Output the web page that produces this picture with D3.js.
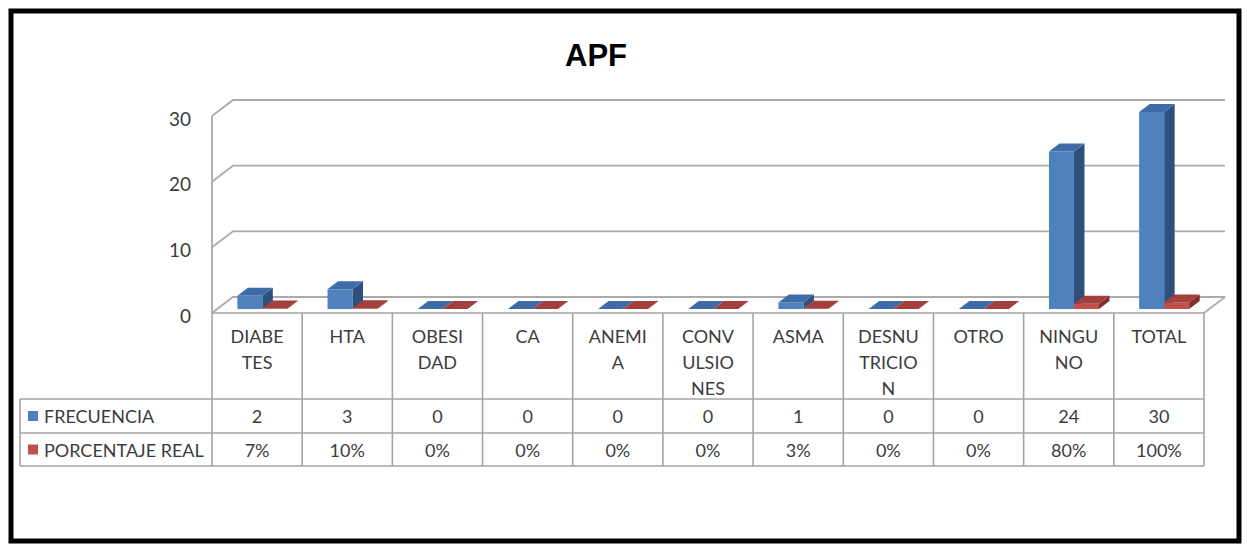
<!DOCTYPE html>
<html>
<head>
<meta charset="utf-8">
<script src="https://cdn.jsdelivr.net/npm/d3@7/dist/d3.min.js"></script>
<style>
  html, body { margin: 0; padding: 0; background: #ffffff; }
  svg { display: block; }
  text { font-family: "Lato", "Open Sans", "Liberation Sans", sans-serif; fill: #3c3c3c; }
</style>
</head>
<body>
<svg id="chart" width="1247" height="545"></svg>
<script>
// APF: frequency and real percentage per antecedent
const categories = ["DIABETES", "HTA", "OBESIDAD", "CA", "ANEMIA", "CONVULSIONES", "ASMA", "DESNUTRICION", "OTRO", "NINGUNO", "TOTAL"];
const categoryLines = [["DIABE", "TES"], ["HTA"], ["OBESI", "DAD"], ["CA"], ["ANEMI", "A"], ["CONV", "ULSIO", "NES"], ["ASMA"], ["DESNU", "TRICIO", "N"], ["OTRO"], ["NINGU", "NO"], ["TOTAL"]];
const frecuencia = [2, 3, 0, 0, 0, 0, 1, 0, 0, 24, 30];
const porcentajeReal = [0.07, 0.10, 0, 0, 0, 0, 0.03, 0, 0, 0.80, 1.00];
const seriesNames = ["FRECUENCIA", "PORCENTAJE REAL"];
const yTicks = [0, 10, 20, 30];

const series = [
  { name: seriesNames[0], values: frecuencia, fmt: d3.format("d"),
    front: "#4f81bd", top: "#3f6ca8", side: "#2f4f7c" },
  { name: seriesNames[1], values: porcentajeReal, fmt: d3.format(".0%"),
    front: "#c0504d", top: "#a33f3c", side: "#7c2f2d" }
];

const svg = d3.select("#chart");

// Frame
svg.append("rect")
  .attr("x", 11).attr("y", 11).attr("width", 1228).attr("height", 530)
  .attr("fill", "#ffffff").attr("stroke", "#000000").attr("stroke-width", 5);

// Title
svg.append("text")
  .attr("x", 596).attr("y", 55)
  .attr("text-anchor", "middle").attr("dominant-baseline", "central")
  .style("font-family", "'Liberation Sans', Arial, sans-serif")
  .style("font-weight", "bold").style("font-size", "31px").style("fill", "#000000")
  .text("APF");

// 3D projection: depth z in [0,1] shifts right and up
const DX = 21, DY = -16;
const proj = (x, y, z) => [x + DX * z, y + DY * z];

const x = d3.scaleBand().domain(categories).range([212, 1204]).paddingInner(0).paddingOuter(0);
const y = d3.scaleLinear().domain([0, 30]).range([313, 116]);

const gridColor = "#ababab";
const grid = svg.append("g");

// Back wall gridlines + left wall diagonals
yTicks.forEach(t => {
  const yy = y(t);
  const a = proj(x.range()[0], yy, 0), b = proj(x.range()[0], yy, 1), c = proj(x.range()[1], yy, 1);
  grid.append("path")
    .attr("d", `M${a}L${b}L${c}`)
    .attr("fill", "none").attr("stroke", gridColor).attr("stroke-width", 1.8);
});
// Floor right edge
{
  const a = proj(x.range()[1], y(0), 0), b = proj(x.range()[1], y(0), 1);
  grid.append("path").attr("d", `M${a}L${b}`).attr("fill", "none").attr("stroke", gridColor).attr("stroke-width", 1.8);
}
// Vertical axis line
grid.append("line")
  .attr("x1", x.range()[0]).attr("x2", x.range()[0])
  .attr("y1", y(30)).attr("y2", y(0))
  .attr("stroke", gridColor).attr("stroke-width", 1.8);

// Tick labels
svg.append("g").selectAll("text").data(yTicks).join("text")
  .attr("x", 191).attr("y", d => y(d) + 2)
  .attr("text-anchor", "end").attr("dominant-baseline", "central")
  .style("font-size", "19px")
  .text(d => d);

// Bars
const pairWidth = 50;
const inner = d3.scaleBand().domain(d3.range(series.length)).range([-pairWidth / 2, pairWidth / 2]);
const z0 = 0.25, z1 = 0.75;
const bars = svg.append("g");

categories.forEach((cat, i) => {
  const cx = x(cat) + x.bandwidth() / 2;
  series.forEach((s, si) => {
    const v = s.values[i];
    const xl = cx + inner(si), xr = xl + inner.bandwidth();
    const yb = y(0), yt = y(v);
    const pts = (arr) => arr.map(p => proj(p[0], p[1], p[2]).join(",")).join(" ");
    const g = bars.append("g");
    // right side
    g.append("polygon")
      .attr("points", pts([[xr, yb, z0], [xr, yb, z1], [xr, yt, z1], [xr, yt, z0]]))
      .attr("fill", s.side);
    // front
    g.append("polygon")
      .attr("points", pts([[xl, yb, z0], [xr, yb, z0], [xr, yt, z0], [xl, yt, z0]]))
      .attr("fill", s.front);
    // top
    g.append("polygon")
      .attr("points", pts([[xl, yt, z0], [xr, yt, z0], [xr, yt, z1], [xl, yt, z1]]))
      .attr("fill", s.top);
  });
});

// Data table
const lineColor = "#a3a3a3";
const rowTop = y(0), headerBottom = 399, row1Bottom = 433, row2Bottom = 466;
const tableLeft = 20;
const table = svg.append("g").attr("stroke", lineColor).attr("stroke-width", 1.6).attr("fill", "none");

// Horizontal rules
table.append("line").attr("x1", x.range()[0]).attr("x2", x.range()[1]).attr("y1", rowTop).attr("y2", rowTop);
[headerBottom, row1Bottom, row2Bottom].forEach(yy => {
  table.append("line").attr("x1", tableLeft).attr("x2", x.range()[1]).attr("y1", yy).attr("y2", yy);
});
// Vertical rules
table.append("line").attr("x1", tableLeft).attr("x2", tableLeft).attr("y1", headerBottom).attr("y2", row2Bottom);
categories.forEach(cat => {
  table.append("line").attr("x1", x(cat)).attr("x2", x(cat)).attr("y1", rowTop).attr("y2", row2Bottom);
});
table.append("line").attr("x1", x.range()[1]).attr("x2", x.range()[1]).attr("y1", rowTop).attr("y2", row2Bottom);

// Category header labels
const headers = svg.append("g");
categories.forEach((cat, i) => {
  const cx = x(cat) + x.bandwidth() / 2;
  categoryLines[i].forEach((ln, li) => {
    headers.append("text")
      .attr("x", cx).attr("y", 336 + li * 26)
      .attr("text-anchor", "middle").attr("dominant-baseline", "central")
      .style("font-size", "18px")
      .text(ln);
  });
});

// Series rows: legend keys, names and values
const rowCenters = [(headerBottom + row1Bottom) / 2, (row1Bottom + row2Bottom) / 2];
series.forEach((s, si) => {
  const cy = rowCenters[si];
  svg.append("rect")
    .attr("x", 28).attr("y", cy - 5).attr("width", 10).attr("height", 10)
    .attr("fill", s.front);
  svg.append("text")
    .attr("x", 44).attr("y", cy)
    .attr("dominant-baseline", "central")
    .style("font-size", "18px")
    .text(s.name);
  categories.forEach((cat, i) => {
    svg.append("text")
      .attr("x", x(cat) + x.bandwidth() / 2).attr("y", cy)
      .attr("text-anchor", "middle").attr("dominant-baseline", "central")
      .style("font-size", "18px")
      .text(s.fmt(s.values[i]));
  });
});
</script>
</body>
</html>
